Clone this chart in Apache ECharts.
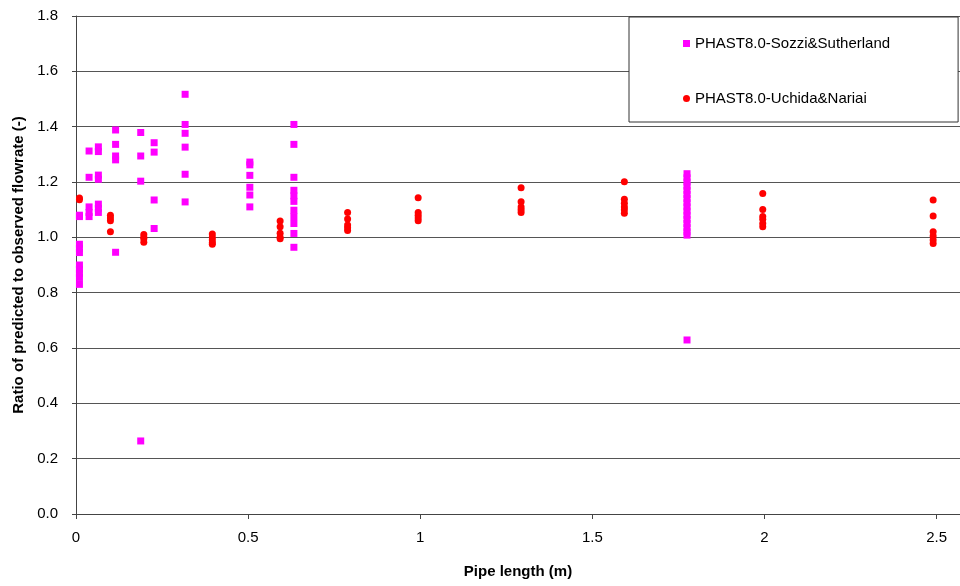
<!DOCTYPE html>
<html>
<head>
<meta charset="utf-8">
<script src="https://cdn.jsdelivr.net/npm/echarts@6/dist/echarts.min.js"></script>
<style>
  html, body { margin: 0; padding: 0; background: #fff; }
  #chart { width: 960px; height: 586px; }
</style>
</head>
<body>
<div id="chart"></div>
<script>
// Pipe lengths (m) tested, one group of flowrate ratios per length
const sozziLengths = [0.01, 0.038, 0.065, 0.115, 0.188, 0.227, 0.317, 0.505, 0.633, 1.775];
const sozziRatios = [
  [1.08, 1.075, 0.975, 0.96, 0.945, 0.90, 0.885, 0.87, 0.855, 0.83],
  [1.312, 1.217, 1.11, 1.09, 1.075],
  [1.327, 1.31, 1.225, 1.21, 1.12, 1.105, 1.09],
  [1.388, 1.336, 1.294, 1.28, 0.946],
  [1.379, 1.294, 1.203, 0.264],
  [1.342, 1.308, 1.135, 1.032],
  [1.517, 1.408, 1.376, 1.326, 1.228, 1.128],
  [1.272, 1.262, 1.224, 1.181, 1.153, 1.11],
  [1.408, 1.336, 1.217, 1.17, 1.15, 1.13, 1.098, 1.075, 1.05, 1.014, 0.964],
  [1.23, 1.215, 1.2, 1.185, 1.17, 1.155, 1.14, 1.125, 1.11, 1.095, 1.08, 1.065, 1.05, 1.035, 1.02, 1.008, 0.629]
];

const uchidaLengths = [0.01, 0.10, 0.197, 0.396, 0.593, 0.789, 0.994, 1.293, 1.593, 1.995, 2.49];
const uchidaRatios = [
  [1.142, 1.136],
  [1.08, 1.07, 1.06, 1.02],
  [1.01, 1.0, 0.995, 0.982],
  [1.012, 1.0, 0.99, 0.98, 0.975],
  [1.059, 1.038, 1.015, 1.0, 0.995],
  [1.09, 1.066, 1.045, 1.035, 1.025],
  [1.143, 1.09, 1.08, 1.07, 1.06],
  [1.179, 1.129, 1.11, 1.1, 1.09],
  [1.201, 1.138, 1.123, 1.11, 1.1, 1.087],
  [1.158, 1.101, 1.075, 1.065, 1.05, 1.038],
  [1.135, 1.077, 1.02, 1.005, 0.99, 0.978]
];

const seriesNames = ['PHAST8.0-Sozzi&Sutherland', 'PHAST8.0-Uchida&Nariai'];
const yTicks = [0, 0.2, 0.4, 0.6, 0.8, 1.0, 1.2, 1.4, 1.6, 1.8];

function toPoints(lengths, groups) {
  const pts = [];
  lengths.forEach((len, i) => groups[i].forEach(r => pts.push([len, r])));
  return pts;
}

const FONT = 'Liberation Sans, Arial, sans-serif';
const chart = echarts.init(document.getElementById('chart'), null, { renderer: 'canvas' });

chart.setOption({
  animation: false,
  backgroundColor: '#ffffff',
  grid: { left: 76, right: 0, top: 16, bottom: 72, containLabel: false },
  xAxis: {
    type: 'value',
    min: 0,
    max: 2.568,
    interval: 0.5,
    name: 'Pipe length (m)',
    nameLocation: 'middle',
    nameGap: 50,
    nameTextStyle: { fontFamily: FONT, fontSize: 15, fontWeight: 'bold', color: '#000' },
    axisLine: { onZero: false, lineStyle: { color: '#444', width: 1 } },
    axisTick: { show: true, inside: false, length: 5, lineStyle: { color: '#444' } },
    axisLabel: {
      fontFamily: FONT, fontSize: 15, color: '#000', margin: 16,
      showMaxLabel: false,
      formatter: v => String(v)
    },
    splitLine: { show: false }
  },
  yAxis: {
    type: 'value',
    min: 0,
    max: 1.8,
    interval: 0.2,
    name: 'Ratio of predicted to observed flowrate (-)',
    nameLocation: 'middle',
    nameGap: 50,
    nameRotate: 90,
    nameTextStyle: { fontFamily: FONT, fontSize: 15, fontWeight: 'bold', color: '#000' },
    axisLine: { show: true, lineStyle: { color: '#444', width: 1 } },
    axisTick: { show: true, inside: false, length: 4, lineStyle: { color: '#444' } },
    axisLabel: {
      fontFamily: FONT, fontSize: 15, color: '#000', margin: 18,
      formatter: v => {
        const t = yTicks.find(k => Math.abs(k - v) < 1e-9);
        return (t !== undefined ? t : v).toFixed(1);
      }
    },
    splitLine: { show: true, lineStyle: { color: '#555', width: 1 } }
  },
  legend: {
    orient: 'vertical',
    left: 629,
    top: 17,
    padding: [19, 68, 16, 54],
    itemGap: 40,
    itemWidth: 7,
    itemHeight: 7,
    backgroundColor: '#ffffff',
    borderColor: '#333',
    borderWidth: 1,
    z: 20,
    textStyle: { fontFamily: FONT, fontSize: 15, color: '#000', padding: [0, 0, 0, 0] },
    data: [
      { name: seriesNames[0], icon: 'rect' },
      { name: seriesNames[1], icon: 'circle' }
    ]
  },
  series: [
    {
      name: seriesNames[0],
      type: 'scatter',
      symbol: 'rect',
      symbolSize: 7,
      itemStyle: { color: '#FF00FF', opacity: 1 },
      data: toPoints(sozziLengths, sozziRatios),
      z: 3
    },
    {
      name: seriesNames[1],
      type: 'scatter',
      symbol: 'circle',
      symbolSize: 7,
      itemStyle: { color: '#FF0000', opacity: 1 },
      data: toPoints(uchidaLengths, uchidaRatios),
      z: 2
    }
  ]
});
</script>
</body>
</html>
